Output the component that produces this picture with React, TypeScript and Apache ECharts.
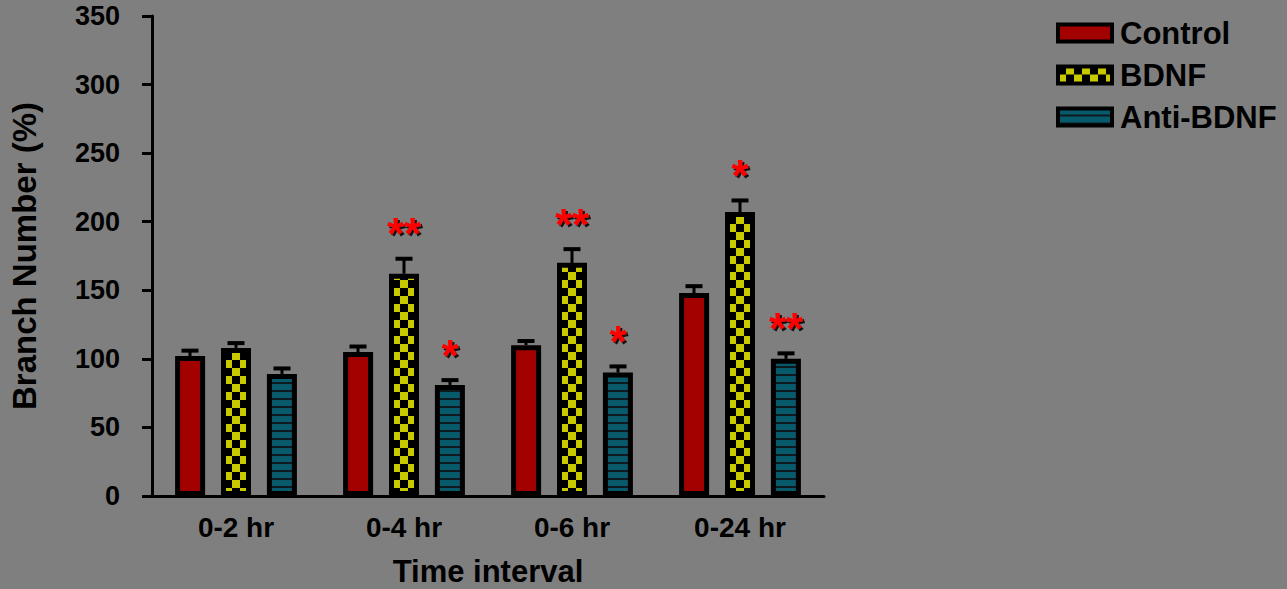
import React, { useEffect, useRef } from "react";
import * as echarts from "echarts";

const categories = ["0-2 hr", "0-4 hr", "0-6 hr", "0-24 hr"];
const seriesNames = ["Control", "BDNF", "Anti-BDNF"];
const controlValues = [102, 105, 110, 148];
const bdnfValues = [108, 162, 170, 207];
const antiValues = [89, 81, 90, 100];
const controlErrors = [4, 4, 3, 5];
const bdnfErrors = [3.5, 11, 10, 8.5];
const antiErrors = [4, 3.5, 4.5, 4];
const controlSig = ["", "", "", ""];
const bdnfSig = ["", "**", "**", "*"];
const antiSig = ["", "*", "*", "**"];
const yTicks = { min: 0, max: 350, interval: 50 };

const FONT = "'Liberation Sans', Arial, Helvetica, sans-serif";
const TEXT = "#000000";

function makeChecker(): string {
  const c = document.createElement("canvas");
  c.width = 16;
  c.height = 16;
  const g = c.getContext("2d")!;
  g.fillStyle = "#c9c900";
  g.fillRect(0, 0, 16, 16);
  g.fillStyle = "#000000";
  g.fillRect(0, 0, 8, 8);
  g.fillRect(8, 8, 8, 8);
  return c.toDataURL();
}

function makeStripes(): string {
  const c = document.createElement("canvas");
  c.width = 8;
  c.height = 8;
  const g = c.getContext("2d")!;
  g.fillStyle = "#07596c";
  g.fillRect(0, 0, 8, 8);
  g.fillStyle = "#0d1a1e";
  g.fillRect(0, 6, 8, 2);
  return c.toDataURL();
}

export default function App() {
  const ref = useRef<HTMLDivElement>(null);

  useEffect(() => {
    if (!ref.current) return;
    const chart = echarts.init(ref.current, undefined, { renderer: "svg" });

    const values = [controlValues, bdnfValues, antiValues];
    const errors = [controlErrors, bdnfErrors, antiErrors];
    const sigs = [controlSig, bdnfSig, antiSig];
    const errData: number[][] = [];
    const errSig: string[] = [];
    for (let s = 0; s < 3; s++) {
      for (let i = 0; i < categories.length; i++) {
        errData.push([i, s, values[s][i], errors[s][i]]);
        errSig.push(sigs[s][i]);
      }
    }

    const checker = { image: makeChecker(), repeat: "repeat", imageWidth: 16, imageHeight: 16 };
    const stripes = { image: makeStripes(), repeat: "repeat", imageWidth: 8, imageHeight: 8 };
    const fills: any[] = ["#a30000", checker, stripes];

    const barWidth = 30;
    const barStep = 46;

    const barSeries = seriesNames.map((name, s) => ({
      name,
      type: "bar",
      data: values[s],
      barWidth,
      barGap: "53%",
      itemStyle: { color: fills[s], borderColor: "#000", borderWidth: 5 },
      z: 2,
    }));

    chart.setOption({
      animation: false,
      backgroundColor: "#7f7f7f",
      textStyle: { fontFamily: FONT },
      grid: { left: 152, right: 463, top: 16, bottom: 93, containLabel: false, outerBoundsMode: "none" },
      legend: {
        orient: "vertical",
        left: 1051,
        top: 12,
        icon: "rect",
        itemWidth: 54,
        itemHeight: 17,
        itemGap: 10,
        data: seriesNames.map((n) => ({ name: n, itemStyle: { borderColor: "#000", borderWidth: 4 } })),
        textStyle: { fontSize: 31, fontWeight: "bold", color: TEXT, fontFamily: FONT, lineHeight: 32, padding: [0, 0, 0, 3] },
        itemStyle: { borderColor: "#000", borderWidth: 4 },
      },
      xAxis: {
        type: "category",
        data: categories,
        name: "Time interval",
        nameLocation: "middle",
        nameGap: 60,
        nameTextStyle: { fontSize: 31, lineHeight: 30, fontWeight: "bold", color: TEXT, fontFamily: FONT },
        axisLine: { lineStyle: { color: "#000", width: 3 } },
        axisTick: { alignWithLabel: true, length: 10, lineStyle: { color: "#000", width: 3 } },
        axisLabel: { fontSize: 28, fontWeight: "bold", color: TEXT, fontFamily: FONT, margin: 17 },
        splitLine: { show: false },
      },
      yAxis: {
        type: "value",
        min: yTicks.min,
        max: yTicks.max,
        interval: yTicks.interval,
        name: "Branch Number (%)",
        nameLocation: "middle",
        nameGap: 111,
        nameTextStyle: { fontSize: 33, fontWeight: "bold", color: TEXT, fontFamily: FONT },
        axisLine: { show: true, lineStyle: { color: "#000", width: 3 } },
        axisTick: { show: true, length: 10, lineStyle: { color: "#000", width: 3 } },
        axisLabel: { fontSize: 27, fontWeight: "bold", color: TEXT, fontFamily: FONT, margin: 32 },
        splitLine: { show: false },
      },
      series: [
        ...barSeries,
        {
          type: "custom",
          name: "errors",
          data: errData,
          encode: { x: 0, y: 2 },
          z: 5,
          renderItem: (params: any, api: any) => {
            const cat = api.value(0);
            const s = api.value(1);
            const mean = api.value(2);
            const err = api.value(3);
            const base = api.coord([cat, mean]);
            const top = api.coord([cat, mean + err]);
            const x = base[0] + (s - 1) * barStep;
            const children: any[] = [
              {
                type: "line",
                shape: { x1: x, y1: base[1], x2: x, y2: top[1] },
                style: { stroke: "#000", lineWidth: 3 },
              },
              {
                type: "line",
                shape: { x1: x - 8.5, y1: top[1], x2: x + 8.5, y2: top[1] },
                style: { stroke: "#000", lineWidth: 4 },
              },
            ];
            const sig = errSig[params.dataIndex];
            if (sig) {
              children.push({
                type: "text",
                x: x,
                y: top[1] - 25,
                style: {
                  text: sig,
                  fontSize: 44,
                  fontWeight: "bold",
                  fontFamily: FONT,
                  fill: "#ff0000",
                  align: "center",
                  verticalAlign: "middle",
                  textShadowColor: "rgba(0,0,0,0.85)",
                  textShadowOffsetX: 2,
                  textShadowOffsetY: 2,
                  textShadowBlur: 1,
                },
              });
            }
            return { type: "group", children };
          },
        },
      ],
    });

    return () => chart.dispose();
  }, []);

  return (
    <div
      ref={ref}
      style={{ position: "fixed", left: 0, top: 0, width: 1287, height: 589, background: "#7f7f7f" }}
    />
  );
}
